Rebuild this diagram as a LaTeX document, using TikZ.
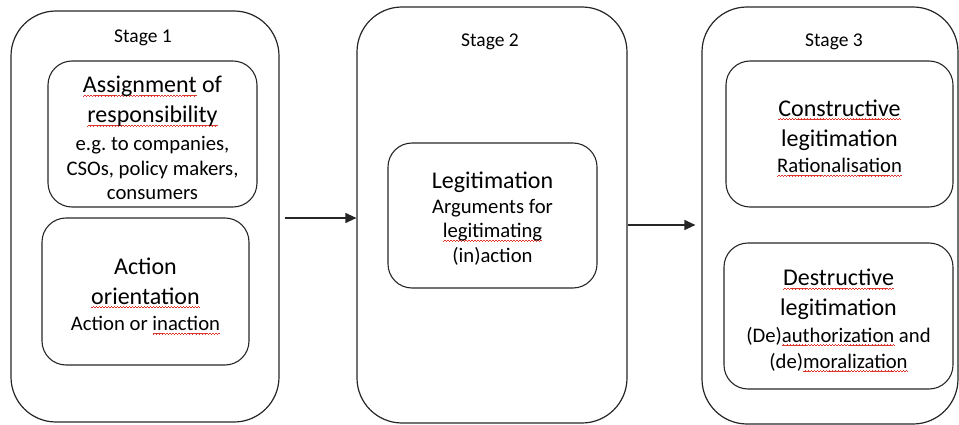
\documentclass[tikz,border=0pt]{standalone}
\usepackage{fontspec}
\setmainfont{Carlito}
\usetikzlibrary{arrows.meta}
\definecolor{sqred}{HTML}{E0352B}
\definecolor{edge}{HTML}{262626}
\frenchspacing
\newsavebox\rwbox
\newcommand\rwseg{\hbox{\rule[-3.9pt]{0.75pt}{0.6pt}\rule[-3.3pt]{0.75pt}{0.6pt}\rule[-2.7pt]{0.75pt}{0.6pt}\rule[-3.3pt]{0.75pt}{0.6pt}}}
\newcommand\rw[1]{\sbox\rwbox{#1}\rlap{\textcolor{sqred}{\hbox to\wd\rwbox{\xleaders\rwseg\hfil}}}\usebox\rwbox}
\newcommand\ttl[1]{{\fontsize{24}{24.5}\selectfont #1}}
\begin{document}
\begin{tikzpicture}[x=1pt,y=-1pt,
  outer/.style={draw=edge, line width=1.2pt, rounded corners=45pt, inner sep=0pt},
  innerbox/.style={draw=edge, line width=1.1pt, rounded corners=24pt, inner sep=0pt},
  boxtext/.style={align=center, inner sep=0pt, font=\fontsize{20.7}{24.5}\selectfont},
  stagelbl/.style={anchor=base, font=\fontsize{19.5}{22}\selectfont, inner sep=0pt},
  conn/.style={draw=edge, line width=1.2pt, -{Triangle[length=11pt,width=10pt]}}]
\useasboundingbox (0,0) rectangle (959,425);
% outer stage boxes
\node[outer, minimum width=268pt, minimum height=411pt] (s1) at (145,216.5) {};
\node[outer, minimum width=270pt, minimum height=416pt] (s2) at (492,215) {};
\node[outer, minimum width=256pt, minimum height=417pt] (s3) at (830,215.5) {};
% stage labels
\node[stagelbl] (l1) at (143,43) {Stage 1};
\node[stagelbl] (l2) at (490,47) {Stage 2};
\node[stagelbl] (l3) at (834,47) {Stage 3};
% inner boxes
\node[innerbox, minimum width=209pt, minimum height=146pt] (b1) at (152.5,134) {};
\node[innerbox, minimum width=207pt, minimum height=147pt] (b2) at (145.5,291.5) {};
\node[innerbox, minimum width=209pt, minimum height=145pt] (b3) at (492.5,215.5) {};
\node[innerbox, minimum width=227pt, minimum height=146pt] (b4) at (839.5,134) {};
\node[innerbox, minimum width=229pt, minimum height=146pt] (b5) at (838.5,316) {};
% box texts
\node[boxtext] (t1) at ([yshift=-4pt]b1.center)
  {\ttl{\rw{Assignment} of}\\[5.5pt]\ttl{\rw{responsibility}}\\[4pt]e.g.\ to companies,\\CSOs, policy makers,\\consumers};
\node[boxtext] (t2) at ([yshift=-4.5pt]b2.center)
  {\ttl{Action}\\[5.5pt]\ttl{\rw{orientation}}\\[2pt]Action or \rw{inaction}};
\node[boxtext] (t3) at ([yshift=-3pt]b3.center)
  {\ttl{Legitimation}\\Arguments for\\\rw{legitimating}\\(in)action};
\node[boxtext] (t4) at ([yshift=-4pt]b4.center)
  {\ttl{\rw{Constructive}}\\[5.5pt]\ttl{legitimation}\\[2pt]\rw{Rationalisation}};
\node[boxtext] (t5) at ([yshift=-4.5pt]b5.center)
  {\ttl{\rw{Destructive}}\\[5.5pt]\ttl{legitimation}\\[2pt](De)\rw{authorization} and\\[1.5pt](de)\rw{moralization}};
% connectors
\coordinate (a1) at (0,218);
\coordinate (a2) at (0,225);
\draw[conn] ([xshift=5pt]s1.east |- a1) -- (s2.west |- a1);
\draw[conn] (s2.east |- a2) -- ([xshift=-6pt]s3.west |- a2);
\end{tikzpicture}
\end{document}
